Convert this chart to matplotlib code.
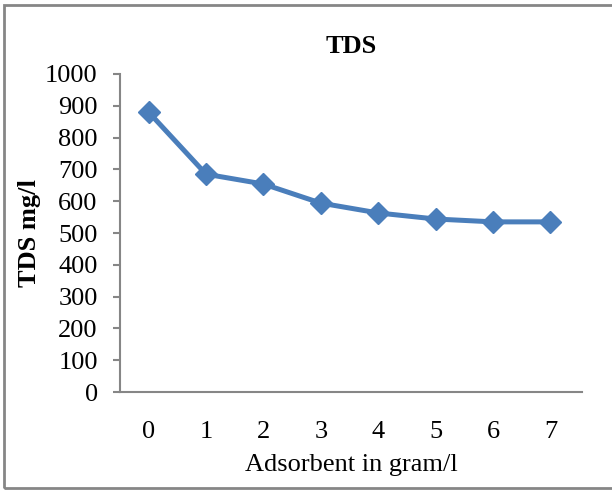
import matplotlib.pyplot as plt
from matplotlib.patches import Rectangle

# data
adsorbent = [0, 1, 2, 3, 4, 5, 6, 7]
tds = [880, 685, 654, 594, 563, 544, 535, 535]
y_ticks = list(range(0, 1001, 100))

plt.rcParams["font.family"] = ["Liberation Serif", "DejaVu Serif"]

fig = plt.figure(figsize=(6.12, 4.91), dpi=100)
ax = fig.add_axes([0.196, 0.2016, 0.755, 0.6477])

ax.plot(adsorbent, tds, color="#4A7EBB", linewidth=3.6,
        marker="D", markersize=11, markerfacecolor="#4A7EBB",
        markeredgecolor="#4A7EBB")

ax.set_xlim(-0.5, 7.55)
ax.set_ylim(0, 1000)
ax.set_yticks(y_ticks)
ax.set_xticks(adsorbent)

for side in ("top", "right"):
    ax.spines[side].set_visible(False)
for side in ("left", "bottom"):
    ax.spines[side].set_color("#868686")
    ax.spines[side].set_linewidth(1.5)

ax.tick_params(axis="y", direction="out", length=5, width=1.5,
               color="#868686", labelsize=19, pad=11)
ax.tick_params(axis="x", length=0, labelsize=19, pad=21)

ax.set_title("TDS", fontsize=19, fontweight="bold", pad=15)
ax.set_ylabel("TDS mg/l", fontsize=19, fontweight="bold", labelpad=3)
ax.set_xlabel("Adsorbent in gram/l", fontsize=19, labelpad=8)

# chart border like the Excel chart area
fig.patches.append(Rectangle((4 / 612, 3 / 491), 1.0, 483 / 491,
                             transform=fig.transFigure, fill=False,
                             edgecolor="#868686", linewidth=2.0))

fig.savefig("out.png", dpi=100)
